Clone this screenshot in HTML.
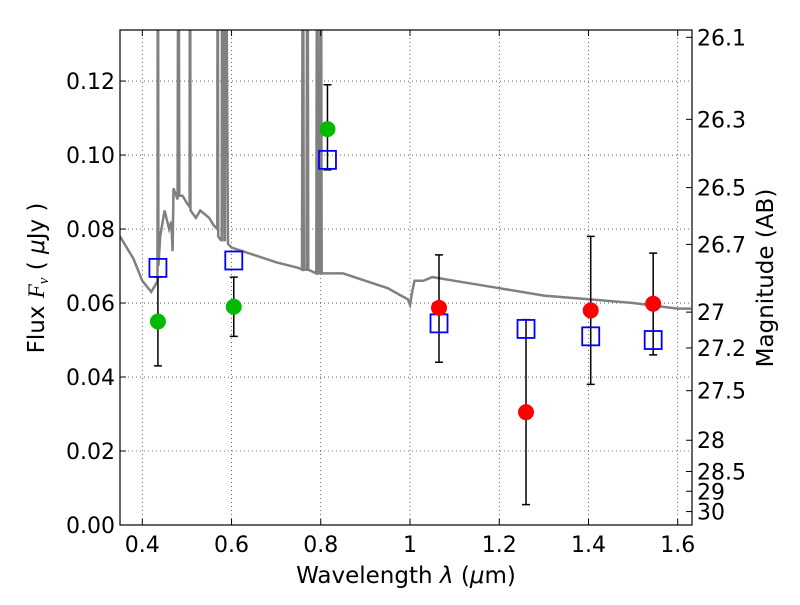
<!DOCTYPE html>
<html><head><meta charset="utf-8">
<style>
body{margin:0;background:#fff;}
svg{font-family:"DejaVu Sans","Liberation Sans",sans-serif;}
</style></head>
<body>
<svg id="chart" width="800" height="600" xmlns="http://www.w3.org/2000/svg">
<defs><clipPath id="pc"><rect x="120" y="30" width="572" height="495"/></clipPath></defs>
<rect width="800" height="600" fill="#fff"/>
<g id="grid"></g>
<g id="spec" clip-path="url(#pc)"></g>
<g id="marks" clip-path="url(#pc)"></g>
<rect x="120" y="30" width="572" height="495" fill="none" stroke="#000" stroke-width="1.2"/>
<g id="axes"></g>
<text x="406" y="583" font-size="23" text-anchor="middle">Wavelength  <tspan font-style="italic">λ</tspan> (<tspan font-style="italic">μ</tspan>m)</text>
<text transform="translate(44,278) rotate(-90)" font-size="23" text-anchor="middle">Flux  <tspan font-style="italic" font-family="Liberation Serif, serif">F<tspan font-size="15" dy="4">ν</tspan></tspan><tspan dy="-4">  (  </tspan><tspan font-style="italic">μ</tspan>Jy )</text>
<text transform="translate(773,278) rotate(-90)" font-size="23" text-anchor="middle">Magnitude (AB)</text>
</svg>
<script>
const xTicks=[0.4,0.6,0.8,1.0,1.2,1.4,1.6];
const xTickLabels=["0.4","0.6","0.8","1","1.2","1.4","1.6"];
const yTicks=[0,0.02,0.04,0.06,0.08,0.10,0.12];
const yTickLabels=["0.00","0.02","0.04","0.06","0.08","0.10","0.12"];
const magTicks=[26.1,26.3,26.5,26.7,27,27.2,27.5,28,28.5,29,30];
const greenWave=[0.435,0.605,0.815];
const greenFlux=[0.055,0.059,0.107];
const redWave=[1.065,1.26,1.405,1.545];
const redFlux=[0.0587,0.0305,0.058,0.0598];
const errWave=[0.435,0.605,0.815,1.065,1.26,1.405,1.545];
const errLow=[0.043,0.051,0.096,0.044,0.0055,0.038,0.046];
const errHigh=[0.067,0.067,0.119,0.073,0.0555,0.078,0.0735];
const modelWave=[0.435,0.605,0.815,1.065,1.26,1.405,1.545];
const modelFlux=[0.0695,0.0715,0.0987,0.0545,0.053,0.051,0.050];
const specWave=[0.35,0.38,0.40,0.42,0.43,0.434,0.435,0.436,0.44,0.45,0.46,0.465,0.468,0.47,0.479,0.481,0.483,0.49,0.50,0.506,0.507,0.508,0.52,0.53,0.55,0.56,0.568,0.569,0.570,0.576,0.578,0.579,0.584,0.585,0.586,0.592,0.60,0.65,0.70,0.75,0.758,0.76,0.762,0.768,0.77,0.772,0.79,0.792,0.794,0.798,0.80,0.802,0.85,0.9,0.95,0.98,0.995,1.0,1.005,1.01,1.03,1.05,1.1,1.2,1.25,1.3,1.4,1.5,1.6,1.63];
const specFlux=[0.078,0.072,0.066,0.063,0.065,0.066,0.2,0.07,0.078,0.085,0.080,0.082,0.074,0.091,0.088,0.2,0.089,0.089,0.087,0.086,0.2,0.085,0.083,0.085,0.083,0.081,0.080,0.2,0.078,0.077,0.077,0.2,0.077,0.077,0.2,0.076,0.075,0.073,0.071,0.0695,0.069,0.2,0.069,0.069,0.2,0.069,0.068,0.2,0.068,0.068,0.2,0.068,0.068,0.066,0.064,0.062,0.061,0.0595,0.063,0.066,0.066,0.067,0.066,0.064,0.063,0.062,0.061,0.060,0.0585,0.0585];
const X0=0.35,X1=1.632,Y0=0,Y1=0.1338,L=120,R=692,T=30,B=525;
const xs=v=>L+(v-X0)/(X1-X0)*(R-L);
const ys=v=>B-(v-Y0)/(Y1-Y0)*(B-T);
const NS="http://www.w3.org/2000/svg";
function mk(tag,attrs,parent){const e=document.createElementNS(NS,tag);for(const k in attrs)e.setAttribute(k,attrs[k]);parent.appendChild(e);return e;}
const grid=document.getElementById('grid'),axes=document.getElementById('axes'),spec=document.getElementById('spec'),marks=document.getElementById('marks');
xTicks.forEach((t,i)=>{const x=xs(t);
 const g=mk('line',{x1:x,x2:x,y1:T,y2:B,stroke:'#000','stroke-width':0.6,'stroke-dasharray':'1,3'},grid);
 
 mk('line',{x1:x,x2:x,y1:B,y2:B-6,stroke:'#000'},axes);mk('line',{x1:x,x2:x,y1:T,y2:T+6,stroke:'#000'},axes);
 const tx=mk('text',{x:x,y:B+27,'font-size':22,'text-anchor':'middle'},axes);tx.textContent=xTickLabels[i];
 });
yTicks.forEach((t,i)=>{const y=ys(t);
 const g=mk('line',{x1:L,x2:R,y1:y,y2:y,stroke:'#000','stroke-width':0.6,'stroke-dasharray':'1,3'},grid);
 
 mk('line',{x1:L,x2:L+6,y1:y,y2:y,stroke:'#000'},axes);
 const tx=mk('text',{x:L-5,y:y+8,'font-size':22,'text-anchor':'end'},axes);tx.textContent=yTickLabels[i];
 });
magTicks.forEach(m=>{const f=Math.pow(10,(23.9-m)/2.5);const y=ys(f);
 mk('line',{x1:R,x2:R-6,y1:y,y2:y,stroke:'#000'},axes);
 const tx=mk('text',{x:R+5,y:y+8,'font-size':22},axes);tx.textContent=String(m);
 });
const sp=mk('path',{d:specWave.map((w,i)=>(i?'L':'M')+xs(w).toFixed(1)+','+ys(specFlux[i]).toFixed(1)).join(''),fill:'none',stroke:'#808080','stroke-width':2.5},spec);

errWave.forEach((w,i)=>{const x=xs(w),a=ys(errLow[i]),b=ys(errHigh[i]);
 const g=mk('path',{d:`M${x},${a}V${b}M${x-4},${a}h8M${x-4},${b}h8`,stroke:'#000','stroke-width':1.5,fill:'none'},marks);
 });
modelWave.forEach((w,i)=>{const r=mk('rect',{x:xs(w)-8.5,y:ys(modelFlux[i])-9,width:17,height:18,fill:'none',stroke:'#0000ff','stroke-width':1.8},marks);
 });
greenWave.forEach((w,i)=>{const c=mk('circle',{cx:xs(w),cy:ys(greenFlux[i]),r:8,fill:'#00bb00'},marks);
 });
redWave.forEach((w,i)=>{const c=mk('circle',{cx:xs(w),cy:ys(redFlux[i]),r:8,fill:'#ff0000'},marks);
 });
</script>
</body></html>
